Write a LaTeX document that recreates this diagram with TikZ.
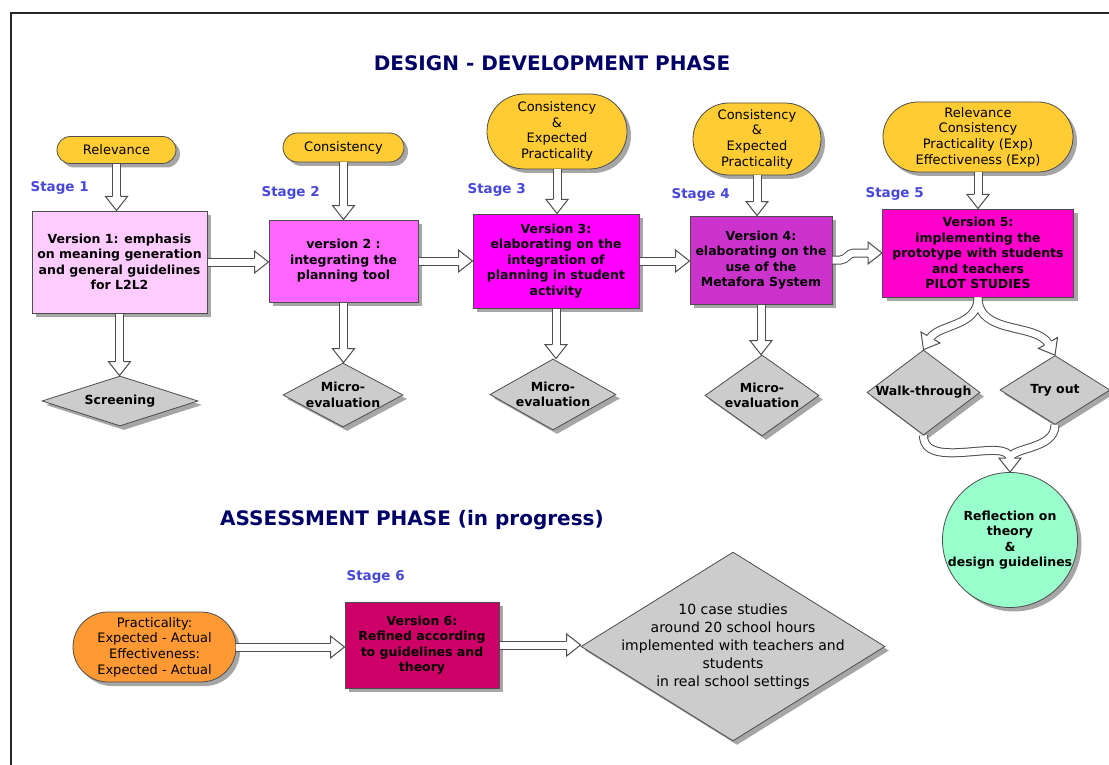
\documentclass[tikz,border=0pt]{standalone}
\usepackage{fontspec}
\setmainfont{DejaVu Sans}
\usetikzlibrary{shapes.geometric, shapes.misc, shadows, calc}

\definecolor{navytitle}{HTML}{000066}
\definecolor{stageblue}{HTML}{4848D8}
\definecolor{crityellow}{HTML}{FFCC33}
\definecolor{critorange}{HTML}{FF9933}
\definecolor{vone}{HTML}{FFCCFF}
\definecolor{vtwo}{HTML}{FF66FF}
\definecolor{vthree}{HTML}{FF00FF}
\definecolor{vfour}{HTML}{CC33CC}
\definecolor{vfive}{HTML}{FF00CC}
\definecolor{vsix}{HTML}{CC0066}
\definecolor{checkgray}{HTML}{CCCCCC}
\definecolor{reflgreen}{HTML}{99FFCC}
\definecolor{edgegray}{HTML}{4D4D4D}

\newcommand{\verfont}{\fontsize{12.5}{15.5}\selectfont\bfseries}
\newcommand{\critfont}{\fontsize{13}{15.7}\selectfont}
\newcommand{\casefont}{\fontsize{14}{18}\selectfont}
\newcommand{\stagefont}{\fontsize{13.5}{16}\selectfont\bfseries}
\newcommand{\phasefont}{\fontsize{20}{23}\selectfont\bfseries}

% hollow block arrows: shaft + head
\newcommand{\vflow}[2]{%
  \draw[shaft, shorten >=13pt] (#1.south) -- (#1.south |- #2.north);
  \pic[rotate=-90] at (#1.south |- #2.north) {bhead};}
\newcommand{\hflow}[2]{%
  \draw[shaft, shorten >=13pt] (#1.east) -- (#1.east -| #2.west);
  \pic at (#1.east -| #2.west) {bhead};}

\begin{document}
\begin{tikzpicture}[
    x=1pt, y=1pt,
    shad/.style={general shadow={fill=black!35, shadow xshift=4pt, shadow yshift=-4pt}},
    crit/.style={rounded rectangle, draw=edgegray, line width=0.8pt, fill=crityellow,
        inner sep=0pt, align=center, font=\critfont, shad},
    version/.style={rectangle, draw=edgegray, line width=1pt, inner sep=0pt,
        align=center, font=\verfont, shad},
    check/.style={diamond, draw=edgegray, line width=0.8pt, fill=checkgray,
        inner xsep=-25pt, inner ysep=0pt, align=center, font=\verfont, shad},
    stage/.style={anchor=west, text=stageblue, font=\stagefont},
    phase/.style={text=navytitle, font=\phasefont},
    shaft/.style={draw=edgegray, line width=1pt, double=white, double distance=7pt},
    tubeout/.style={draw=edgegray, line width=9pt},
    tubein/.style={draw=white, line width=7pt},
    bhead/.pic={\path[draw=edgegray, fill=white, line width=1pt]
        (-14pt,4pt) -- (-14pt,11pt) -- (0pt,0pt) -- (-14pt,-11pt) -- (-14pt,-4pt);}
]
\useasboundingbox (0,0) rectangle (1109,-765);
\draw[line width=2pt, black!85] (10.5,-765) -- (10.5,-13.5) -- (1109,-13.5);

\node[phase] (design) at (552,-63) {DESIGN - DEVELOPMENT PHASE};
\node[phase] (assess) at (412,-520) {ASSESSMENT PHASE (in progress)};

% criteria
\node[crit, minimum width=119pt, minimum height=27pt] (c1) at (116.5,-150) {Relevance};
\node[crit, minimum width=121pt, minimum height=29pt] (c2) at (343.5,-147.5) {Consistency};
\node[crit, minimum width=140pt, minimum height=75pt] (c3) at (557,-131.5) {Consistency\\\&\\Expected\\Practicality};
\node[crit, minimum width=128pt, minimum height=72pt] (c4) at (757,-139) {Consistency\\\&\\Expected\\Practicality};
\node[crit, minimum width=190pt, minimum height=70pt] (c5) at (978,-137) {Relevance\\Consistency\\Practicality (Exp)\\Effectiveness (Exp)};
\node[crit, fill=critorange, minimum width=163pt, minimum height=70pt] (c6) at (154.5,-647) {Practicality:\\Expected - Actual\\Effectiveness:\\Expected - Actual};

% stages
\node[stage] (s1) at (27,-188) {Stage 1};
\node[stage] (s2) at (258,-193) {Stage 2};
\node[stage] (s3) at (464,-190) {Stage 3};
\node[stage] (s4) at (668,-195) {Stage 4};
\node[stage] (s5) at (862,-194) {Stage 5};
\node[stage] (s6) at (343,-577) {Stage 6};

% versions
\node[version, fill=vone, minimum width=175pt, minimum height=102pt] (v1) at (119.5,-262) {Version 1: emphasis\\on meaning generation\\and general guidelines\\for L2L2};
\node[version, fill=vtwo, minimum width=149pt, minimum height=82pt] (v2) at (343.5,-261) {version 2 :\\integrating the\\planning tool};
\node[version, fill=vthree, minimum width=166pt, minimum height=94pt] (v3) at (556,-261) {Version 3:\\elaborating on the\\integration of\\planning in student\\activity};
\node[version, fill=vfour, minimum width=142pt, minimum height=88pt] (v4) at (761,-260) {Version 4:\\elaborating on the\\use of the\\Metafora System};
\node[version, fill=vfive, minimum width=191pt, minimum height=88pt] (v5) at (978,-253) {Version 5:\\implementing the\\prototype with students\\and teachers\\PILOT STUDIES};
\node[version, fill=vsix, minimum width=154pt, minimum height=86pt] (v6) at (422,-645) {Version 6:\\Refined according\\to guidelines and\\theory};

% evaluations
\node[check, minimum width=156pt, minimum height=50pt] (scr) at (120,-401) {Screening};
\node[check, minimum width=120pt, minimum height=64pt] (m2) at (343,-395) {Micro-\\evaluation};
\node[check, minimum width=126pt, minimum height=71pt] (m3) at (553,-394.5) {Micro-\\evaluation};
\node[check, minimum width=114pt, minimum height=81pt] (m4) at (762,-395.5) {Micro-\\evaluation};
\node[check, minimum width=113pt, minimum height=85pt] (walk) at (923.5,-392.5) {Walk-through};
\node[check, minimum width=110pt, minimum height=69pt] (try) at (1055,-390) {Try out};
\node[check, font=\casefont, inner xsep=-60pt, minimum width=304pt, minimum height=151pt] (cases) at (733,-646.5)
    {10 case studies\\around 20 school hours\\implemented with teachers and\\students\\in real school settings};
\node[circle, draw=edgegray, line width=0.8pt, fill=reflgreen, inner sep=-6pt, minimum size=135pt,
    align=center, font=\verfont, shad] (refl) at (1010,-540) {Reflection on\\theory\\\&\\design guidelines};

% arrows
\vflow{c1}{v1} \vflow{c2}{v2} \vflow{c3}{v3} \vflow{c4}{v4} \vflow{c5}{v5}
\vflow{v1}{scr} \vflow{v2}{m2} \vflow{v3}{m3} \vflow{v4}{m4}
\hflow{v1}{v2} \hflow{v2}{v3} \hflow{v3}{v4}
\hflow{c6}{v6} \hflow{v6}{cases}
\draw[shaft, shorten >=13pt] (v4.east) -- ++(8,0) to[out=0, in=180] ($(v5.west)+(-28,0)$) -- (v5.west);
\pic at (v5.west) {bhead};

% branches to the pilot studies and back
\foreach \pass in {tubeout, tubein} {
  \draw[\pass, shorten >=13pt] (v5.south) to[out=-90, in=60] (walk.north);
  \draw[\pass, shorten >=13pt] (v5.south) to[out=-90, in=120] (try.north);
  \draw[\pass, shorten >=13pt] (walk.south) to[out=-90, in=90] (refl.north);
  \draw[\pass, shorten >=13pt] (try.south) to[out=-90, in=90] (refl.north);
}
\pic[rotate=-120] at (walk.north) {bhead};
\pic[rotate=-60] at (try.north) {bhead};
\pic[rotate=-90] at (refl.north) {bhead};
\end{tikzpicture}
\end{document}
